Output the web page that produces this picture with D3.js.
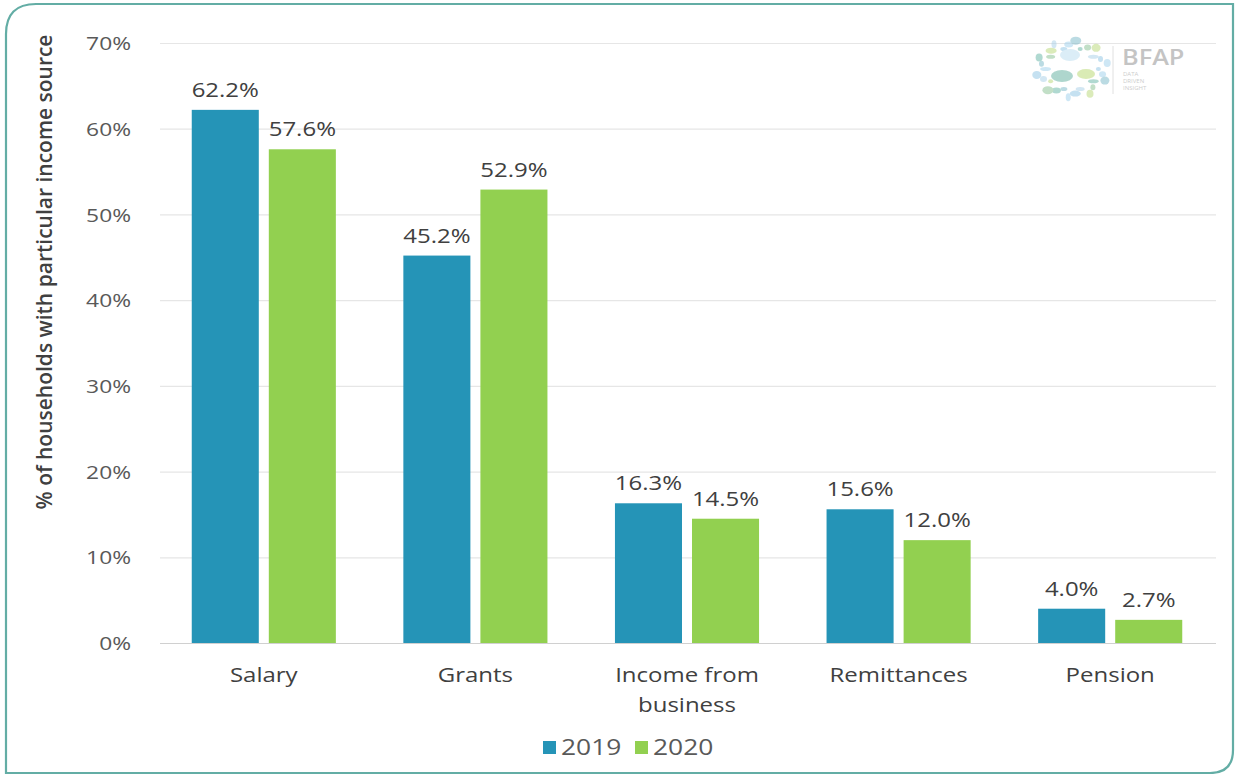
<!DOCTYPE html>
<html>
<head>
<meta charset="utf-8">
<script src="https://cdn.jsdelivr.net/npm/d3@7"></script>
<style>
  html, body { margin: 0; padding: 0; background: #ffffff; }
  svg { display: block; }
  text { font-family: "Open Sans", "Noto Sans", sans-serif; }
</style>
</head>
<body>
<svg id="chart" width="1240" height="774"></svg>
<script>
// Share of households receiving each income source
const categories = ["Salary", "Grants", "Income from business", "Remittances", "Pension"];
const categoryLines = [["Salary"], ["Grants"], ["Income from", "business"], ["Remittances"], ["Pension"]];
const seriesNames = ["2019", "2020"];
const values2019 = [62.2, 45.2, 16.3, 15.6, 4.0];
const values2020 = [57.6, 52.9, 14.5, 12.0, 2.7];
const yTicks = [0, 10, 20, 30, 40, 50, 60, 70];
const yTitle = "% of households with particular income source";

const colors = { "2019": "#2594b7", "2020": "#92d050" };
const seriesValues = { "2019": values2019, "2020": values2020 };
const SX = 1.2; // horizontal text stretch

const svg = d3.select("#chart");

// Card frame: rounded top-left and bottom-right corners
svg.append("path")
  .attr("d", "M6,776 L6,34 Q6,4 36,4 L1233,4 L1233,750 Q1233,773 1210,773 L6,773")
  .attr("fill", "none")
  .attr("stroke", "#63ada5")
  .attr("stroke-width", 2.2);

const x0 = d3.scaleBand().domain(categories).range([158, 1216]).paddingInner(0.319).paddingOuter(0.1595);
const x1 = d3.scaleBand().domain(seriesNames).range([0, x0.bandwidth()]).paddingInner(0.13).paddingOuter(0);
const y = d3.scaleLinear().domain([0, 70]).range([643, 43]);

// Gridlines
const yAxis = d3.axisLeft(y).tickValues(yTicks).tickSize(-(1216 - 160)).tickFormat(d => d + "%").tickPadding(0);
const gy = svg.append("g").attr("transform", "translate(160,0)").call(yAxis);
gy.select(".domain").remove();
gy.selectAll(".tick line").attr("stroke", d => d === 0 ? "#d0d0d0" : "#e6e6e6").attr("stroke-width", 1.2);
gy.selectAll(".tick text")
  .attr("x", 0).attr("dy", "0.35em")
  .attr("fill", "#595959").attr("font-size", 19).attr("text-anchor", "end")
  .attr("transform", `translate(-29,0) scale(${SX},1)`);

// Logo (top right)
const logo = svg.append("g").attr("opacity", 0.5);
const dotColors = ["#8cc4e4", "#9fd0ec", "#7ab8c8", "#64b4a4", "#86c090", "#b8d878", "#a8d0e8"];
for (let i = 0; i < 30; i++) {
  const a = (i / 30) * Math.PI * 2;
  const r = 22 + (i % 3) * 4;
  logo.append("ellipse")
    .attr("cx", 1072 + Math.cos(a) * r * 1.2)
    .attr("cy", 69 + Math.sin(a) * r * 0.95)
    .attr("rx", 2.5 + (i % 4)).attr("ry", 2 + (i % 3))
    .attr("fill", dotColors[i % dotColors.length]);
}
logo.append("ellipse").attr("cx", 1062).attr("cy", 76).attr("rx", 11).attr("ry", 6).attr("fill", "#5fae9c");
logo.append("ellipse").attr("cx", 1086).attr("cy", 74).attr("rx", 9).attr("ry", 5).attr("fill", "#b6d86e");
logo.append("ellipse").attr("cx", 1070).attr("cy", 55).attr("rx", 10).attr("ry", 6).attr("fill", "#b8dcf0");
logo.append("line").attr("x1", 1113).attr("x2", 1113).attr("y1", 46).attr("y2", 94).attr("stroke", "#c4c4c4");
logo.append("text").attr("transform", "translate(1122,65) scale(1.15,1)").attr("font-size", 22).attr("font-weight", 600)
  .attr("fill", "#8a8a8a").text("BFAP");
["DATA", "DRIVEN", "INSIGHT"].forEach((t, i) => {
  logo.append("text").attr("x", 1123).attr("y", 76 + i * 7).attr("font-size", 6).attr("fill", "#9a9a9a").text(t);
});

// Bars
const groups = svg.append("g").selectAll("g").data(categories).join("g")
  .attr("transform", d => `translate(${x0(d)},0)`);

groups.selectAll("rect")
  .data((d, i) => seriesNames.map(s => ({ s, v: seriesValues[s][i] })))
  .join("rect")
  .attr("x", d => x1(d.s))
  .attr("y", d => y(d.v))
  .attr("width", x1.bandwidth())
  .attr("height", d => y(0) - y(d.v))
  .attr("fill", d => colors[d.s]);

// Value labels
groups.selectAll("text.val")
  .data((d, i) => seriesNames.map(s => ({ s, v: seriesValues[s][i] })))
  .join("text")
  .attr("class", "val")
  .attr("text-anchor", "middle")
  .attr("fill", "#404040")
  .attr("font-size", 20)
  .attr("transform", d => `translate(${x1(d.s) + x1.bandwidth() / 2},${y(d.v) - 13}) scale(${SX},1)`)
  .text(d => d.v.toFixed(1) + "%");

// Category labels
categories.forEach((c, i) => {
  const cx = x0(c) + x0.bandwidth() / 2;
  categoryLines[i].forEach((line, j) => {
    svg.append("text")
      .attr("text-anchor", "middle")
      .attr("fill", "#404040")
      .attr("font-size", 20)
      .attr("transform", `translate(${cx},${682 + j * 30}) scale(${SX},1)`)
      .text(line);
  });
});

// Y-axis title
svg.append("text")
  .attr("transform", "translate(52,272) rotate(-90)")
  .attr("text-anchor", "middle")
  .attr("fill", "#404040")
  .attr("font-size", 21)
  .attr("font-weight", 600)
  .text(yTitle);

// Legend
const legend = svg.append("g");
const legendX = [543, 635];
seriesNames.forEach((s, i) => {
  legend.append("rect").attr("x", legendX[i]).attr("y", 741).attr("width", 13).attr("height", 13).attr("fill", colors[s]);
  legend.append("text")
    .attr("fill", "#595959").attr("font-size", 22)
    .attr("transform", `translate(${legendX[i] + 18},755) scale(${SX},1)`)
    .text(s);
});
</script>
</body>
</html>
